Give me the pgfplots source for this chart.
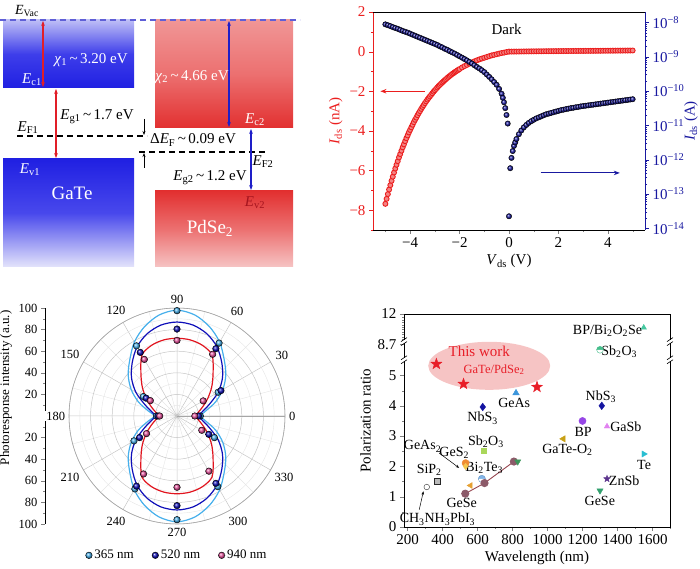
\documentclass[border=0pt]{standalone}
\usepackage{fontspec}
\setmainfont{Liberation Serif}
\usepackage{pgfplots}
\pgfplotsset{compat=1.18}
\usepgfplotslibrary{polar}
\usetikzlibrary{arrows.meta,plotmarks}

\newcommand\fa{\fontsize{14}{16}\selectfont}
\newcommand\ft{\fontsize{15}{17}\selectfont}
\newcommand\fb{\fontsize{13}{15}\selectfont}
\newcommand\fc{\fontsize{12.5}{14}\selectfont}
\newcommand\fbig{\fontsize{19}{21}\selectfont}
\newcommand\sub[1]{\textsubscript{#1}}
\newcommand\tl{\,\textasciitilde\,}

\definecolor{vac}{RGB}{95,95,215}
\definecolor{arrR}{RGB}{225,30,40}
\definecolor{arrB}{RGB}{30,30,200}
\definecolor{c365}{RGB}{70,175,235}
\definecolor{c520}{RGB}{15,15,185}
\definecolor{c940}{RGB}{230,80,155}
\definecolor{l940}{RGB}{225,20,30}
\definecolor{ivred}{RGB}{235,30,30}
\definecolor{ivblue}{RGB}{25,25,160}
\definecolor{ellpink}{RGB}{246,196,196}
\definecolor{starred}{RGB}{232,30,40}
\definecolor{evtwo}{RGB}{165,20,30}
\definecolor{mGeAs}{RGB}{60,150,220}
\definecolor{mNbS}{RGB}{20,20,160}
\definecolor{mBP}{RGB}{150,70,230}
\definecolor{mGaSb}{RGB}{225,130,240}
\definecolor{mGaTeO}{RGB}{200,160,20}
\definecolor{mTe}{RGB}{40,190,210}
\definecolor{mZnSb}{RGB}{90,50,140}
\definecolor{mGeSe}{RGB}{50,160,110}
\definecolor{mBPBi}{RGB}{70,200,160}
\definecolor{mSbO}{RGB}{70,190,140}
\definecolor{mSbOb}{RGB}{170,215,90}
\definecolor{mGeS}{RGB}{240,140,50}
\definecolor{mGeAsb}{RGB}{245,200,80}
\definecolor{mBiTe}{RGB}{130,180,230}
\definecolor{mBiTeb}{RGB}{100,150,200}
\definecolor{mOrange}{RGB}{230,160,50}
\definecolor{mLine}{RGB}{150,70,80}
\definecolor{mLinem}{RGB}{140,90,105}
\definecolor{mGreen}{RGB}{60,150,90}
\definecolor{gaTop}{RGB}{190,190,246}
\definecolor{gaMid}{RGB}{62,62,234}
\definecolor{gaDeep}{RGB}{32,32,226}
\definecolor{gaMidb}{RGB}{72,72,236}
\definecolor{gaPale}{RGB}{228,228,251}
\definecolor{pdTop}{RGB}{240,150,150}
\definecolor{pdMid}{RGB}{236,112,112}
\definecolor{pdDeep}{RGB}{226,48,48}
\definecolor{pdPale}{RGB}{246,196,196}

% filled five-point star
\pgfdeclareplotmark{fstar}{%
  \pgfpathmoveto{\pgfpointpolar{90}{\pgfplotmarksize}}%
  \pgfpathlineto{\pgfpointpolar{126}{0.4\pgfplotmarksize}}%
  \pgfpathlineto{\pgfpointpolar{162}{\pgfplotmarksize}}%
  \pgfpathlineto{\pgfpointpolar{198}{0.4\pgfplotmarksize}}%
  \pgfpathlineto{\pgfpointpolar{234}{\pgfplotmarksize}}%
  \pgfpathlineto{\pgfpointpolar{270}{0.4\pgfplotmarksize}}%
  \pgfpathlineto{\pgfpointpolar{306}{\pgfplotmarksize}}%
  \pgfpathlineto{\pgfpointpolar{342}{0.4\pgfplotmarksize}}%
  \pgfpathlineto{\pgfpointpolar{18}{\pgfplotmarksize}}%
  \pgfpathlineto{\pgfpointpolar{54}{0.4\pgfplotmarksize}}%
  \pgfpathclose\pgfusepathqfillstroke}

\begin{document}
\begin{tikzpicture}[font=\fa]
\path[use as bounding box] (0,0) rectangle (700pt,569pt);

%================ band alignment schematic =================
\begin{axis}[at={(0pt,0pt)}, anchor=south west, width=700pt, height=569pt,
  scale only axis, xmin=0, xmax=700, ymin=0, ymax=569, y dir=reverse,
  hide axis, clip=false]
\shade[top color=gaTop, bottom color=gaDeep, middle color=gaMid] (3,20) rectangle (134,88);
\shade[top color=gaDeep, bottom color=gaPale, middle color=gaMidb] (3,159) rectangle (134,267);
\shade[top color=pdTop, bottom color=pdDeep, middle color=pdMid] (155,20) rectangle (293,128);
\shade[top color=pdDeep, bottom color=pdPale, middle color=pdMid] (155,191) rectangle (293,267);

\draw[vac, line width=1.4pt, dash pattern=on 6pt off 4pt] (0,20) -- (300,20);
\draw[line width=1.4pt, dash pattern=on 6pt off 4pt] (17,136) -- (147,136);
\draw[line width=1.4pt, dash pattern=on 6pt off 4pt] (139,152) -- (268,152);

\draw[arrR, line width=1.3pt, {Stealth[length=5pt]}-{Stealth[length=5pt]}] (43,21) -- (43,87);
\draw[arrR, line width=1.3pt, {Stealth[length=5pt]}-{Stealth[length=5pt]}] (56,89) -- (56,158);
\draw[arrB, line width=1.3pt, {Stealth[length=5pt]}-{Stealth[length=5pt]}] (229,21) -- (229,127);
\draw[arrB, line width=1.3pt, {Stealth[length=5pt]}-{Stealth[length=5pt]}] (251,129) -- (251,190);
\draw[line width=1pt, -{Stealth[length=4pt]}] (144,119) -- (144,135);
\draw[line width=1pt, -{Stealth[length=4pt]}] (144,168) -- (144,153);

\node at (27,11) {\textit{E}\sub{Vac}};
\node[white, font=\ft] at (91,60) {\textit{χ}\sub{1}\tl 3.20 eV};
\node[white, font=\ft] at (32,80) {\textit{E}\sub{c1}};
\node[font=\ft] at (97,117) {\textit{E}\sub{g1}\tl 1.7 eV};
\node[font=\ft] at (28,128) {\textit{E}\sub{F1}};
\node[font=\ft] at (193,140) {Δ\textit{E}\sub{F}\tl 0.09 eV};
\node[white, font=\ft] at (30,170) {\textit{E}\sub{v1}};
\node[white, font=\fbig] at (72,193) {GaTe};
\node[white, font=\ft] at (192,77) {\textit{χ}\sub{2}\tl 4.66 eV};
\node[white, font=\ft] at (255,120) {\textit{E}\sub{c2}};
\node[font=\ft] at (263,162) {\textit{E}\sub{F2}};
\node[font=\ft] at (210,178) {\textit{E}\sub{g2}\tl 1.2 eV};
\node[text=evtwo, font=\ft] at (255,203) {\textit{E}\sub{v2}};
\node[white, font=\fbig] at (210,228) {PdSe\sub{2}};
\end{axis}

%================ I-V curves, linear scale (left) =================
\begin{axis}[at={(373pt,339pt)}, anchor=south west, width=272pt, height=218pt,
  scale only axis, xmin=-5.5, xmax=5.5, ymin=-9, ymax=2,
  axis x line*=bottom, axis y line*=left, axis line style={-},
  y axis line style={ivred},
  tick align=outside, major tick length=4pt, minor tick length=2.2pt,
  xtick={-4,-2,0,2,4}, xticklabels={−4,−2,0,2,4},
  minor xtick={-5,-3,-1,1,3,5},
  ytick={-8,-6,-4,-2,0,2}, yticklabels={−8,−6,−4,−2,0,2},
  minor ytick={-9,-7,-5,-3,-1,1},
  ytick style={ivred}, yticklabel style={ivred},
  tick label style={font=\ft},
  xlabel={\textit{V}\sub{ds} (V)}, ylabel={\textit{I}\sub{ds} (nA)},
  ylabel style={ivred, font=\ft}, xlabel style={font=\ft},
  clip=false]
\draw (rel axis cs:0,1) -- (rel axis cs:1,1);
\addplot[only marks, mark=*, mark size=2.5pt,
  mark options={draw=ivred, fill=ivred!55, line width=0.9pt}] table {
-5.0 -7.68
-4.95 -7.43
-4.9 -7.19
-4.85 -6.96
-4.8 -6.74
-4.75 -6.52
-4.7 -6.31
-4.65 -6.10
-4.6 -5.90
-4.55 -5.71
-4.5 -5.53
-4.45 -5.34
-4.4 -5.17
-4.35 -5.00
-4.3 -4.83
-4.25 -4.68
-4.2 -4.52
-4.15 -4.37
-4.1 -4.23
-4.05 -4.08
-4.0 -3.95
-3.95 -3.82
-3.9 -3.69
-3.85 -3.56
-3.8 -3.44
-3.75 -3.33
-3.7 -3.21
-3.65 -3.10
-3.6 -3.00
-3.55 -2.89
-3.5 -2.79
-3.45 -2.70
-3.4 -2.60
-3.35 -2.51
-3.3 -2.42
-3.25 -2.34
-3.2 -2.26
-3.15 -2.18
-3.1 -2.10
-3.05 -2.02
-3.0 -1.95
-2.95 -1.88
-2.9 -1.81
-2.85 -1.74
-2.8 -1.68
-2.75 -1.62
-2.7 -1.56
-2.65 -1.50
-2.6 -1.44
-2.55 -1.39
-2.5 -1.33
-2.45 -1.28
-2.4 -1.23
-2.35 -1.18
-2.3 -1.13
-2.25 -1.09
-2.2 -1.04
-2.15 -1.00
-2.1 -0.96
-2.05 -0.92
-2.0 -0.88
-1.9 -0.80
-1.8 -0.73
-1.7 -0.67
-1.6 -0.61
-1.5 -0.55
-1.4 -0.49
-1.3 -0.44
-1.2 -0.39
-1.1 -0.35
-1.0 -0.31
-0.9 -0.27
-0.8 -0.23
-0.7 -0.19
-0.6 -0.16
-0.5 -0.13
-0.4 -0.10
-0.3 -0.07
-0.2 -0.05
-0.1 -0.02
0.0 0.000
0.1 0.001
0.2 0.003
0.3 0.004
0.4 0.0055
0.5 0.007
0.6 0.0087
0.7 0.010
0.8 0.0117
0.9 0.013
1.0 0.0145
1.1 0.016
1.2 0.017
1.3 0.018
1.4 0.0195
1.5 0.021
1.6 0.022
1.7 0.023
1.8 0.024
1.9 0.025
2.0 0.026
2.1 0.0275
2.2 0.0285
2.3 0.0295
2.4 0.0305
2.5 0.0316
2.6 0.0324
2.7 0.0335
2.8 0.0343
2.9 0.0355
3.0 0.036
3.1 0.037
3.2 0.038
3.3 0.039
3.4 0.040
3.5 0.041
3.6 0.0417
3.7 0.0427
3.8 0.0437
3.9 0.0447
4.0 0.0457
4.1 0.0468
4.2 0.0479
4.3 0.049
4.4 0.050
4.5 0.0513
4.6 0.0525
4.7 0.0537
4.8 0.055
4.9 0.0562
5.0 0.0575
};
\draw[ivred, line width=0.9pt, -{Stealth[length=6pt]}] (axis cs:-3.4,-2) -- (axis cs:-5.2,-2);
\draw[ivblue, line width=0.9pt, -{Stealth[length=6pt]}] (axis cs:1.28,-6.12) -- (axis cs:4.48,-6.12);
\node[font=\ft] at (axis cs:-0.1,1.14) {Dark};
\end{axis}

%================ I-V curves, log scale (right) =================
\begin{axis}[at={(373pt,339pt)}, anchor=south west, width=272pt, height=218pt,
  scale only axis, xmin=-5.5, xmax=5.5,
  ymode=log, log basis y=10, ymin=8.91e-15, ymax=1.995e-8,
  axis y line*=right, axis x line=none, axis line style={-},
  y axis line style={ivblue},
  tick align=outside, major tick length=4pt, minor tick length=2.2pt,
  ytick={1e-14,1e-13,1e-12,1e-11,1e-10,1e-9,1e-8},
  yticklabels={10\textsuperscript{−14},10\textsuperscript{−13},10\textsuperscript{−12},10\textsuperscript{−11},10\textsuperscript{−10},10\textsuperscript{−9},10\textsuperscript{−8}},
  minor ytick={2e-14,3e-14,4e-14,5e-14,6e-14,7e-14,8e-14,9e-14,
    2e-13,3e-13,4e-13,5e-13,6e-13,7e-13,8e-13,9e-13,
    2e-12,3e-12,4e-12,5e-12,6e-12,7e-12,8e-12,9e-12,
    2e-11,3e-11,4e-11,5e-11,6e-11,7e-11,8e-11,9e-11,
    2e-10,3e-10,4e-10,5e-10,6e-10,7e-10,8e-10,9e-10,
    2e-9,3e-9,4e-9,5e-9,6e-9,7e-9,8e-9,9e-9},
  ytick style={ivblue}, yticklabel style={ivblue, font=\ft},
  ylabel={\textit{I}\sub{ds} (A)}, ylabel style={ivblue, font=\ft},
  ylabel shift=-7pt,
  clip=false]
\addplot[only marks, mark=ball, mark size=2.7pt, mark options={ball color=ivblue}]
  table[x index=0, y expr=10^(\thisrowno{1})] {
-5.0 -8.06
-4.9 -8.085
-4.8 -8.11
-4.7 -8.14
-4.6 -8.165
-4.5 -8.19
-4.4 -8.22
-4.3 -8.25
-4.2 -8.275
-4.1 -8.30
-4.0 -8.33
-3.9 -8.36
-3.8 -8.39
-3.7 -8.42
-3.6 -8.45
-3.5 -8.48
-3.4 -8.51
-3.3 -8.54
-3.2 -8.57
-3.1 -8.60
-3.0 -8.63
-2.9 -8.66
-2.8 -8.70
-2.7 -8.73
-2.6 -8.77
-2.5 -8.80
-2.4 -8.84
-2.3 -8.875
-2.2 -8.91
-2.1 -8.95
-2.0 -8.99
-1.9 -9.03
-1.8 -9.07
-1.7 -9.11
-1.6 -9.155
-1.5 -9.20
-1.4 -9.25
-1.3 -9.30
-1.2 -9.345
-1.1 -9.395
-1.0 -9.45
-0.9 -9.52
-0.8 -9.59
-0.7 -9.66
-0.6 -9.74
-0.5 -9.82
-0.4 -9.94
-0.3 -10.08
-0.25 -10.2
-0.2 -10.33
-0.15 -10.5
-0.1 -10.7
-0.05 -10.95
0.0 -13.65
0.05 -12.25
0.1 -11.95
0.15 -11.75
0.2 -11.6
0.25 -11.5
0.3 -11.40
0.4 -11.26
0.5 -11.15
0.6 -11.06
0.7 -10.99
0.8 -10.93
0.9 -10.88
1.0 -10.84
1.1 -10.80
1.2 -10.77
1.3 -10.74
1.4 -10.71
1.5 -10.68
1.6 -10.66
1.7 -10.64
1.8 -10.62
1.9 -10.60
2.0 -10.58
2.1 -10.56
2.2 -10.545
2.3 -10.53
2.4 -10.515
2.5 -10.50
2.6 -10.49
2.7 -10.475
2.8 -10.465
2.9 -10.45
3.0 -10.44
3.1 -10.43
3.2 -10.42
3.3 -10.41
3.4 -10.40
3.5 -10.39
3.6 -10.38
3.7 -10.37
3.8 -10.36
3.9 -10.35
4.0 -10.34
4.1 -10.33
4.2 -10.32
4.3 -10.31
4.4 -10.30
4.5 -10.29
4.6 -10.28
4.7 -10.27
4.8 -10.26
4.9 -10.25
5.0 -10.24
};
\end{axis}

%================ polar photoresponse: radial scale =================
\begin{axis}[at={(45pt,45pt)}, anchor=south west, width=1pt, height=216pt,
  scale only axis, xmin=0, xmax=1, ymin=-100, ymax=100,
  axis y line*=left, axis x line=none, axis line style={-},
  ytick={-100,-80,-60,-40,-20,20,40,60,80,100},
  yticklabels={100,80,60,40,20,20,40,60,80,100},
  minor ytick={-90,-70,-50,-30,-10,10,30,50,70,90},
  tick align=outside, major tick length=4pt, minor tick length=2pt,
  tick label style={font=\fc},
  ylabel={Photoresponse intensity (a.u.)},
  ylabel style={font=\fb, at={(ticklabel cs:0.63)}}]
\end{axis}

%================ polar photoresponse =================
\begin{polaraxis}[at={(177pt,153pt)}, anchor=center, width=216pt, height=216pt,
  scale only axis, ymin=0, ymax=100,
  ytick={20,40,60,80,100}, yticklabels={}, minor ytick={10,30,50,70,90},
  xtick={0,30,...,330}, xticklabels={0,30,60,90,120,150,180,210,240,270,300,330},
  minor xtick={15,45,...,345},
  grid=both, major grid style={gray!45, line width=0.5pt},
  minor grid style={gray!20, line width=0.4pt},
  axis line style={gray!70, line width=0.6pt},
  tick style={draw=none},
  xticklabel style={font=\fc, fill=white, inner sep=1pt, outer sep=3pt},
  legend style={at={(0.5,-0.145)}, anchor=center, draw=none, fill=none,
    font=\fb, legend columns=3,
    /tikz/every even column/.append style={column sep=16pt}}]
\addplot[c365, line width=1.2pt, smooth, forget plot] coordinates {
(0,21)(10,27)(20,38)(30,49)(40,59)(50,68)(60,79)(70,88)(80,95)(90,98)
(100,95)(110,88)(120,79)(130,68)(140,59)(150,49)(160,38)(170,27)(180,21)
(190,27)(200,38)(210,49)(220,59)(230,68)(240,79)(250,88)(260,95)(270,98)
(280,95)(290,88)(300,79)(310,68)(320,59)(330,49)(340,38)(350,27)(360,21)};
\addplot[c520, line width=1.2pt, smooth, forget plot] coordinates {
(0,20)(10,24)(20,32)(30,44)(40,55)(50,64.5)(60,74)(70,81)(80,85.5)(90,87)
(100,85.5)(110,81)(120,74)(130,64.5)(140,55)(150,44)(160,32)(170,24)(180,20)
(190,24)(200,32)(210,44)(220,55)(230,64.5)(240,74)(250,81)(260,85.5)(270,87)
(280,85.5)(290,81)(300,74)(310,64.5)(320,55)(330,44)(340,32)(350,24)(360,20)};
\addplot[l940, line width=1.2pt, smooth, forget plot] coordinates {
(0,17)(10,20)(20,25.5)(30,33)(40,42)(50,52)(60,65)(70,69.5)(80,71.5)(90,72)
(100,71.5)(110,69.5)(120,65)(130,52)(140,42)(150,33)(160,25.5)(170,20)(180,17)
(190,20)(200,25.5)(210,33)(220,42)(230,52)(240,65)(250,69.5)(260,71.5)(270,72)
(280,71.5)(290,69.5)(300,65)(310,52)(320,42)(330,33)(340,25.5)(350,20)(360,17)};
\addplot[only marks, mark=ball, mark size=3.3pt, mark options={ball color=c365}] coordinates {
(0,21.6)(30,44)(60,78)(90,97.5)(120,75)(150,36)(180,19)(210,46)(240,78)(270,96)(300,75.5)(330,40)};
\addlegendentry{365 nm}
\addplot[only marks, mark=ball, mark size=3.3pt, mark options={ball color=c520}] coordinates {
(0,20)(30,47)(60,72)(90,80.5)(120,68)(150,33)(180,17.6)(210,40)(240,75)(270,83)(300,72)(330,34)};
\addlegendentry{520 nm}
\addplot[only marks, mark=ball, mark size=3.3pt, mark options={ball color=c940}] coordinates {
(0,16.5)(30,28)(60,66)(90,70)(120,60.5)(150,28.5)(180,16)(210,32.6)(240,62)(270,66)(300,59)(330,26.5)};
\addlegendentry{940 nm}
\end{polaraxis}

%================ polarization ratio vs wavelength =================
\begin{axis}[at={(404pt,42pt)}, anchor=south west, width=266pt, height=213pt,
  scale only axis, xmin=180, xmax=1700, ymin=0, ymax=7.03,
  tick pos=left, tick align=outside, major tick length=4pt, minor tick length=2pt,
  xtick={200,400,600,800,1000,1200,1400,1600},
  xticklabels={200,400,600,800,1000,1200,1400,1600},
  minor xtick={300,500,700,900,1100,1300,1500,1700},
  ytick={0,1,2,3,4,5,6.03,7.03}, yticklabels={0,1,2,3,4,5,8.7,12},
  minor ytick={0.5,1.5,2.5,3.5,4.5,6.2,6.28,6.36,6.44,6.52,6.6,6.68,6.76,6.84,6.92},
  tick label style={font=\ft},
  xlabel={Wavelength (nm)}, ylabel={Polarization ratio},
  xlabel style={font=\ft}, ylabel style={font=\ft},
  clip=false]
\fill[ellpink] (axis cs:667,5.32) ellipse [x radius=61pt, y radius=24pt];
% axis breaks
\fill[white] ([xshift=-5pt,yshift=-1.5pt]axis cs:180,5.52) rectangle ([xshift=5pt,yshift=1.5pt]axis cs:180,5.52);
\fill[white] ([xshift=-5pt,yshift=-1.5pt]axis cs:180,6.12) rectangle ([xshift=5pt,yshift=1.5pt]axis cs:180,6.12);
\fill[white] ([xshift=-5pt,yshift=-1.5pt]axis cs:1700,5.52) rectangle ([xshift=5pt,yshift=1.5pt]axis cs:1700,5.52);
\fill[white] ([xshift=-5pt,yshift=-1.5pt]axis cs:1700,6.12) rectangle ([xshift=5pt,yshift=1.5pt]axis cs:1700,6.12);
\draw[line width=0.6pt] ([xshift=-3pt,yshift=-4pt]axis cs:180,5.52) -- ([xshift=3pt,yshift=0pt]axis cs:180,5.52);
\draw[line width=0.6pt] ([xshift=-3pt,yshift=0pt]axis cs:180,5.52) -- ([xshift=3pt,yshift=4pt]axis cs:180,5.52);
\draw[line width=0.6pt] ([xshift=-3pt,yshift=-4pt]axis cs:180,6.12) -- ([xshift=3pt,yshift=0pt]axis cs:180,6.12);
\draw[line width=0.6pt] ([xshift=-3pt,yshift=0pt]axis cs:180,6.12) -- ([xshift=3pt,yshift=4pt]axis cs:180,6.12);
\draw[line width=0.6pt] ([xshift=-3pt,yshift=-4pt]axis cs:1700,5.52) -- ([xshift=3pt,yshift=0pt]axis cs:1700,5.52);
\draw[line width=0.6pt] ([xshift=-3pt,yshift=0pt]axis cs:1700,5.52) -- ([xshift=3pt,yshift=4pt]axis cs:1700,5.52);
\draw[line width=0.6pt] ([xshift=-3pt,yshift=-4pt]axis cs:1700,6.12) -- ([xshift=3pt,yshift=0pt]axis cs:1700,6.12);
\draw[line width=0.6pt] ([xshift=-3pt,yshift=0pt]axis cs:1700,6.12) -- ([xshift=3pt,yshift=4pt]axis cs:1700,6.12);

% reported devices
\addplot[only marks, mark=triangle*, mark size=3.8pt, mark options={fill=mGeAs, draw=mGeAs}] coordinates {(820,4.42)};
\addplot[only marks, mark=diamond*, mark size=3.8pt, mark options={fill=mNbS, draw=mNbS}] coordinates {(630,3.96)(1310,4.0)};
\addplot[only marks, mark=*, mark size=3.6pt, mark options={fill=mBP, draw=mBP}] coordinates {(1200,3.5)};
\addplot[only marks, mark=triangle*, mark size=3.2pt, mark options={fill=mGaSb, draw=mGaSb}] coordinates {(1340,3.32)};
\addplot[only marks, mark=triangle*, mark size=3.6pt, mark options={rotate=90, fill=mGaTeO, draw=mGaTeO}] coordinates {(1090,2.91)};
\addplot[only marks, mark=triangle*, mark size=3.6pt, mark options={rotate=-90, fill=mTe, draw=mTe}] coordinates {(1550,2.41)};
\addplot[only marks, mark=fstar, mark size=3.6pt, mark options={fill=mZnSb, draw=mZnSb}] coordinates {(1340,1.59)};
\addplot[only marks, mark=triangle*, mark size=3.6pt, mark options={rotate=180, fill=mGeSe, draw=mGeSe}] coordinates {(1300,1.2)};
\addplot[only marks, mark=triangle*, mark size=3.2pt, mark options={fill=mBPBi, draw=mBPBi}] coordinates {(1550,6.58)};
\addplot[only marks, mark=halfcircle*, mark size=3.4pt, mark options={fill=mSbO, draw=mSbO}] coordinates {(1300,5.85)};
\addplot[only marks, mark=square*, mark size=2.8pt, mark options={fill=mSbOb, draw=mSbOb}] coordinates {(635,2.52)};
\addplot[only marks, mark=*, mark size=3.6pt, mark options={fill=mGeS, draw=mGeS}] coordinates {(532,2.11)};
\addplot[only marks, mark=diamond*, mark size=3.2pt, mark options={fill=mGeAsb, draw=mGeAsb}] coordinates {(532,2.0)};
\addplot[only marks, mark=halfcircle*, mark size=3.6pt, mark options={fill=mBiTe, draw=mBiTeb}] coordinates {(625,1.59)};
\addplot[only marks, mark=square*, mark size=3.2pt, mark options={fill=gray!55, draw=gray!30!black}] coordinates {(370,1.51)};
\addplot[only marks, mark=*, mark size=2.8pt, mark options={fill=white, draw=gray!40!black}] coordinates {(310,1.32)};
\addplot[only marks, mark=triangle*, mark size=3.4pt, mark options={rotate=90, fill=mOrange, draw=mOrange}] coordinates {(560,1.37)};
\addplot[color=mLine, line width=0.9pt, mark=*, mark size=3.6pt, mark options={fill=mLinem, draw=mLinem}] coordinates {(530,1.1)(640,1.45)(808,2.16)};
\addplot[only marks, mark=triangle*, mark size=3.6pt, mark options={rotate=180, fill=mGreen, draw=mGreen}] coordinates {(830,2.16)};
% this work
\addplot[only marks, mark=fstar, mark size=5.8pt, mark options={fill=starred, draw=starred}] coordinates {(365,5.38)(520,4.72)(940,4.62)};

\node[text=starred, font=\fontsize{15}{17}\selectfont] at (axis cs:610,5.79) {This work};
\node[text=starred, font=\fc] at (axis cs:695,5.19) {GaTe/PdSe\sub{2}};
\begin{scope}[every node/.style={font=\fa}]
\node at (axis cs:810,4.09) {GeAs};
\node at (axis cs:629,3.59) {NbS\sub{3}};
\node at (axis cs:1305,4.31) {NbS\sub{3}};
\node at (axis cs:1204,3.15) {BP};
\node at (axis cs:1448,3.32) {GaSb};
\node at (axis cs:1114,2.55) {GaTe-O\sub{2}};
\node at (axis cs:1552,2.05) {Te};
\node at (axis cs:1438,1.53) {ZnSb};
\node at (axis cs:1299,0.85) {GeSe};
\node at (axis cs:1343,6.48) {BP/Bi\sub{2}O\sub{2}Se};
\node at (axis cs:1410,5.79) {Sb\sub{2}O\sub{3}};
\node at (axis cs:648,2.82) {Sb\sub{2}O\sub{3}};
\node at (axis cs:467,2.44) {GeS\sub{2}};
\node at (axis cs:286,2.66) {GeAs\sub{2}};
\node at (axis cs:638,1.95) {Bi\sub{2}Te\sub{3}};
\node at (axis cs:324,1.89) {SiP\sub{2}};
\node at (axis cs:371,0.26) {CH\sub{3}NH\sub{3}PbI\sub{3}};
\node at (axis cs:510,0.79) {GeSe};
\end{scope}
\draw[line width=0.5pt, -{Stealth[length=3.5pt]}] (axis cs:381,2.44) -- (axis cs:495,1.95);
\draw[line width=0.5pt, -{Stealth[length=3.5pt]}] (axis cs:267,0.57) -- (axis cs:291,1.18);
\end{axis}
\end{tikzpicture}
\end{document}
